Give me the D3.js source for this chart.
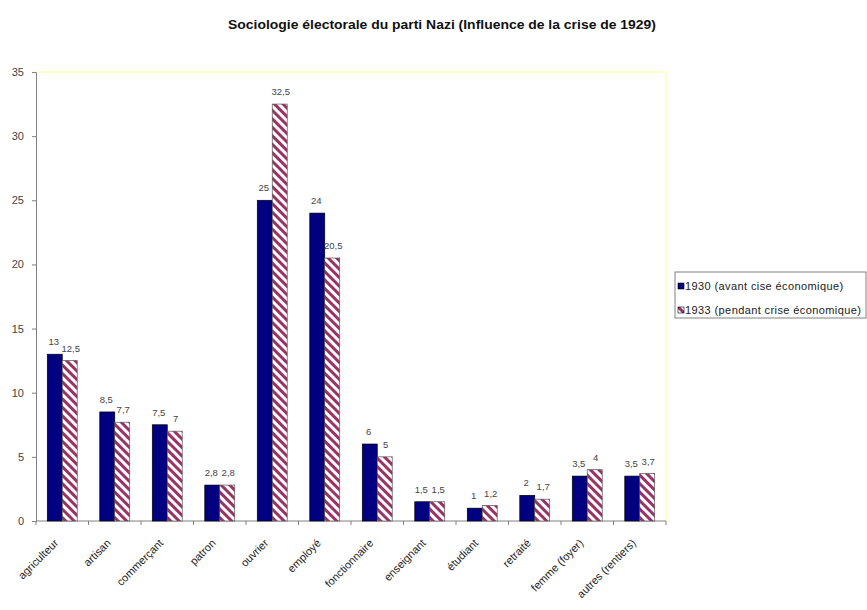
<!DOCTYPE html>
<html>
<head>
<meta charset="utf-8">
<script src="https://cdn.jsdelivr.net/npm/d3@7"></script>
<style>
  body { margin: 0; background: #fff; }
  text { font-family: "Liberation Sans Narrow", "Liberation Sans", Arial, sans-serif; }
</style>
</head>
<body>
<div class="chart"></div>
<script>
// data
var categories = ["agriculteur", "artisan", "commerçant", "patron", "ouvrier", "employé",
  "fonctionnaire", "enseignant", "étudiant", "retraité", "femme (foyer)", "autres (rentiers)"];
var values1930 = [13, 8.5, 7.5, 2.8, 25, 24, 6, 1.5, 1, 2, 3.5, 3.5];
var values1933 = [12.5, 7.7, 7, 2.8, 32.5, 20.5, 5, 1.5, 1.2, 1.7, 4, 3.7];
var seriesNames = ["1930 (avant cise économique)", "1933 (pendant crise économique)"];
var yTicks = [0, 5, 10, 15, 20, 25, 30, 35];

var svgWidth = 867;
var svgHeight = 610;
var margin = { top: 72, right: 201, bottom: 89, left: 36 };
var width = svgWidth - margin.left - margin.right;
var height = svgHeight - margin.top - margin.bottom;

var svg = d3.select(".chart")
  .append("svg")
  .attr("width", svgWidth)
  .attr("height", svgHeight);

// hatch pattern for 1933
var defs = svg.append("defs");
var pat = defs.append("pattern")
  .attr("id", "hatch")
  .attr("patternUnits", "userSpaceOnUse")
  .attr("width", 6)
  .attr("height", 6)
  .attr("patternTransform", "rotate(-45)");
pat.append("rect").attr("width", 6).attr("height", 6).attr("fill", "#fff");
pat.append("rect").attr("width", 3).attr("height", 6).attr("fill", "#993366");

// title
svg.append("text")
  .attr("x", 442)
  .attr("y", 29)
  .attr("text-anchor", "middle")
  .attr("font-size", "12px")
  .attr("font-weight", "bold")
  .attr("fill", "#111")
  .attr("textLength", 428)
  .attr("lengthAdjust", "spacingAndGlyphs")
  .text("Sociologie électorale du parti Nazi (Influence de la crise de 1929)");

var chartGroup = svg.append("g")
  .attr("transform", `translate(${margin.left}, ${margin.top})`);

// plot area border (yellowish top/right)
chartGroup.append("path")
  .attr("d", `M0,0H${width}V${height}`)
  .attr("fill", "none")
  .attr("stroke", "#ffff99")
  .attr("stroke-width", 1);

var x0 = d3.scaleBand()
  .domain(categories)
  .range([0, width])
  .paddingInner(0.43)
  .paddingOuter(0.215);

var x1 = d3.scaleBand()
  .domain(["a", "b"])
  .range([0, x0.bandwidth()]);

var y = d3.scaleLinear()
  .domain([0, 35])
  .range([height, 0]);

// y axis
var leftAxis = d3.axisLeft(y).tickValues(yTicks).tickSize(4).tickPadding(8);
var gy = chartGroup.append("g").call(leftAxis);
gy.select(".domain").attr("stroke", "#808080");
gy.selectAll(".tick line").attr("stroke", "#808080");
gy.selectAll(".tick text")
  .attr("font-size", "11px")
  .attr("fill", "#444")
  .style("font-family", "'Liberation Sans Narrow', 'Liberation Sans', Arial, sans-serif");

// x axis line + ticks between categories
var step = x0.step();
var gx = chartGroup.append("g").attr("transform", `translate(0, ${height})`);
gx.append("line")
  .attr("x1", 0).attr("x2", width)
  .attr("stroke", "#808080");
gx.selectAll(".xt")
  .data(d3.range(categories.length + 1))
  .enter()
  .append("line")
  .attr("x1", d => d * step).attr("x2", d => d * step)
  .attr("y1", 0).attr("y2", 4)
  .attr("stroke", "#808080");

gx.selectAll(".xl")
  .data(categories)
  .enter()
  .append("text")
  .attr("transform", d => `translate(${x0(d) + x0.bandwidth() / 2 - 6}, 20) rotate(-45)`)
  .attr("text-anchor", "end")
  .attr("dy", "0.35em")
  .attr("font-size", "11px")
  .attr("fill", "#222")
  .text(d => d);

// bars
var rows = categories.map(function(c, i) {
  return { cat: c, a: values1930[i], b: values1933[i] };
});

var groups = chartGroup.selectAll(".grp")
  .data(rows)
  .enter()
  .append("g")
  .attr("transform", d => `translate(${x0(d.cat)}, 0)`);

groups.append("rect")
  .attr("x", x1("a"))
  .attr("y", d => y(d.a))
  .attr("width", x1.bandwidth())
  .attr("height", d => height - y(d.a))
  .attr("fill", "#000080")
  .attr("stroke", "#000")
  .attr("stroke-width", 0.7);

groups.append("rect")
  .attr("x", x1("b"))
  .attr("y", d => y(d.b))
  .attr("width", x1.bandwidth())
  .attr("height", d => height - y(d.b))
  .attr("fill", "url(#hatch)")
  .attr("stroke", "#555")
  .attr("stroke-width", 0.7);

var fmt = v => String(v).replace(".", ",");

groups.append("text")
  .attr("x", x1("a") + x1.bandwidth() / 2 - 1)
  .attr("y", d => y(d.a) - 9)
  .attr("text-anchor", "middle")
  .attr("font-size", "9.5px")
  .attr("fill", "#444")
  .text(d => fmt(d.a));

groups.append("text")
  .attr("x", x1("b") + x1.bandwidth() / 2 + 1)
  .attr("y", d => y(d.b) - 9)
  .attr("text-anchor", "middle")
  .attr("font-size", "9.5px")
  .attr("fill", "#444")
  .text(d => fmt(d.b));

// legend
var legend = svg.append("g").attr("transform", "translate(675, 272)");
legend.append("rect")
  .attr("width", 191).attr("height", 46)
  .attr("fill", "#fff")
  .attr("stroke", "#808080");
var fills = ["#000080", "url(#hatch)"];
seriesNames.forEach(function(name, i) {
  legend.append("rect")
    .attr("x", 3).attr("y", 11 + i * 24)
    .attr("width", 6).attr("height", 6)
    .attr("fill", fills[i])
    .attr("stroke", "#000")
    .attr("stroke-width", 0.6);
  legend.append("text")
    .attr("x", 10).attr("y", 14 + i * 24)
    .attr("dy", "0.35em")
    .attr("font-size", "11px")
    .attr("letter-spacing", "0.4px")
    .attr("fill", "#222")
    .text(name);
});
</script>
</body>
</html>
